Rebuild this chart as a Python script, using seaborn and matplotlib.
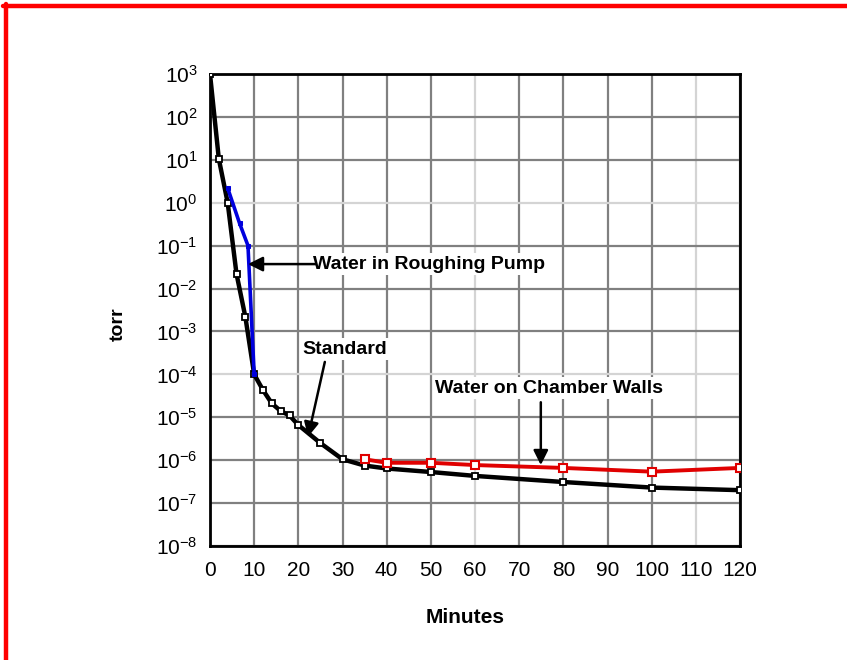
import numpy as np
import pandas as pd
import matplotlib
matplotlib.use("Agg")
import matplotlib.pyplot as plt
import seaborn as sns
from matplotlib.lines import Line2D
from matplotlib.ticker import LogLocator, MultipleLocator, NullFormatter, LogFormatterSciNotation

# ---------------- data ----------------
std_min = [0, 2, 4, 6, 8, 10, 12, 14, 16, 18, 20, 25, 30, 35, 40, 50, 60, 80, 100, 120]
std_torr = [1e3, 1.05e1, 1.0, 2.2e-2, 2.2e-3, 1.0e-4, 4.3e-5, 2.1e-5, 1.4e-5, 1.1e-5,
            6.6e-6, 2.5e-6, 1.05e-6, 7.5e-7, 6.4e-7, 5.3e-7, 4.3e-7, 3.1e-7, 2.3e-7, 2.0e-7]
pump_min = [4, 6.7, 8.6, 10]
pump_torr = [2.2, 0.33, 0.1, 1e-4]
wall_min = [35, 40, 50, 60, 80, 100, 120]
wall_torr = [1.05e-6, 8.7e-7, 8.7e-7, 7.7e-7, 6.6e-7, 5.4e-7, 6.6e-7]

x_ticks = list(range(0, 121, 10))

# ---------------- style ----------------
sns.set_style("white")
plt.rcParams['font.family'] = ['Liberation Sans', 'DejaVu Sans']
plt.rcParams['mathtext.fontset'] = 'custom'
plt.rcParams['mathtext.rm'] = 'Liberation Sans'
plt.rcParams['mathtext.default'] = 'regular'
plt.rcParams['text.color'] = 'black'
plt.rcParams['axes.labelcolor'] = 'black'
plt.rcParams['xtick.color'] = 'black'
plt.rcParams['ytick.color'] = 'black'

W, H = 847, 660
fig = plt.figure(figsize=(W / 100, H / 100), dpi=100)
fig.patch.set_facecolor('white')

L, R, T, B = 210, 740, 74, 546
ax = fig.add_axes([L / W, 1 - B / H, (R - L) / W, (B - T) / H])
ax.set_facecolor('white')

std_df = pd.DataFrame({'Minutes': std_min, 'torr': std_torr})
pump_df = pd.DataFrame({'Minutes': pump_min, 'torr': pump_torr})
wall_df = pd.DataFrame({'Minutes': wall_min, 'torr': wall_torr})

sns.lineplot(data=std_df, x='Minutes', y='torr', ax=ax, color='black', lw=3.2,
             marker='s', markersize=5, markerfacecolor='white', markeredgecolor='black',
             markeredgewidth=1.3, estimator=None, sort=False, zorder=3)
sns.lineplot(data=wall_df, x='Minutes', y='torr', ax=ax, color='#e00000', lw=2.8,
             marker='s', markersize=6, markerfacecolor='white', markeredgecolor='#e00000',
             markeredgewidth=1.5, estimator=None, sort=False, zorder=4)
sns.lineplot(data=pump_df, x='Minutes', y='torr', ax=ax, color='#0000dd', lw=2.6,
             marker='s', markersize=3.5, markerfacecolor='#0000dd', markeredgecolor='#0000dd',
             estimator=None, sort=False, zorder=5)

ax.set_yscale('log')
ax.set_xlim(0, 120)
ax.set_ylim(1e-8, 1e3)
ax.set_xticks(x_ticks)
ax.set_xticklabels([str(t) for t in x_ticks])
ax.xaxis.set_minor_locator(MultipleLocator(2))
ax.yaxis.set_major_locator(LogLocator(base=10, numticks=20))
ax.yaxis.set_major_formatter(LogFormatterSciNotation())
ax.yaxis.set_minor_locator(LogLocator(base=10, subs=np.arange(2, 10), numticks=20))
ax.yaxis.set_minor_formatter(NullFormatter())

ax.grid(True, which='major', color='#808080', lw=1.6)
ax.set_axisbelow(True)
for sp in ax.spines.values():
    sp.set_color('black')
    sp.set_linewidth(2)

ax.tick_params(axis='both', which='major', direction='out', length=6, width=1.6,
               labelsize=15, colors='black')
ax.tick_params(axis='both', which='minor', direction='out', length=3.5, width=1.2, colors='black')
ax.tick_params(axis='x', which='major', pad=5)
ax.tick_params(axis='y', which='major', pad=3)

# lighter gridlines seen in the reference
fig.canvas.draw()
for tk in ax.xaxis.get_major_ticks():
    if tk.get_loc() in (60, 110):
        tk.gridline.set_color('#d4d4d4')
for tk in ax.yaxis.get_major_ticks():
    if np.isclose(tk.get_loc(), 1.0) or np.isclose(tk.get_loc(), 1e-4):
        tk.gridline.set_color('#d4d4d4')

ax.set_xlabel('Minutes', fontsize=15, fontweight='bold', color='black')
ax.xaxis.set_label_coords((465 - L) / (R - L), (B - 608) / (B - T))
ax.set_ylabel('torr', fontsize=14, fontweight='bold', color='black')
ax.yaxis.set_label_coords((127 - L) / (R - L), (B - 324) / (B - T))

# ---------------- annotations ----------------
box = dict(facecolor='white', edgecolor='none', pad=1.5)
arrow = dict(arrowstyle='-|>', color='black', lw=1.8, mutation_scale=22, shrinkA=0, shrinkB=0)

ax.text(23.3, 10 ** -1.43, 'Water in Roughing Pump', fontsize=14, fontweight='bold',
        ha='left', va='center', bbox=box, zorder=6, color='black')
ax.annotate('', xy=(8.6, 10 ** -1.43), xytext=(24.0, 10 ** -1.43), arrowprops=arrow, zorder=6)

ax.text(30.45, 10 ** -3.41, 'Standard', fontsize=14, fontweight='bold',
        ha='center', va='center', bbox=box, zorder=6, color='black')
ax.annotate('', xy=(22.2, 3.5e-6), xytext=(26.0, 10 ** -3.71), arrowprops=arrow, zorder=6)

ax.text(76.75, 10 ** -4.32, 'Water on Chamber Walls', fontsize=14, fontweight='bold',
        ha='center', va='center', bbox=box, zorder=6, color='black')
ax.annotate('', xy=(74.9, 7.7e-7), xytext=(74.9, 10 ** -4.65), arrowprops=arrow, zorder=6)

# ---------------- red frame ----------------
fig.add_artist(Line2D([3 / W, 1.0], [1 - 6 / H, 1 - 6 / H], color='#ff0000', lw=3.2,
                      transform=fig.transFigure))
fig.add_artist(Line2D([5.5 / W, 5.5 / W], [1 - 4 / H, 0.0], color='#ff0000', lw=3.2,
                      transform=fig.transFigure))

fig.savefig('out.png', dpi=100, facecolor='white')
